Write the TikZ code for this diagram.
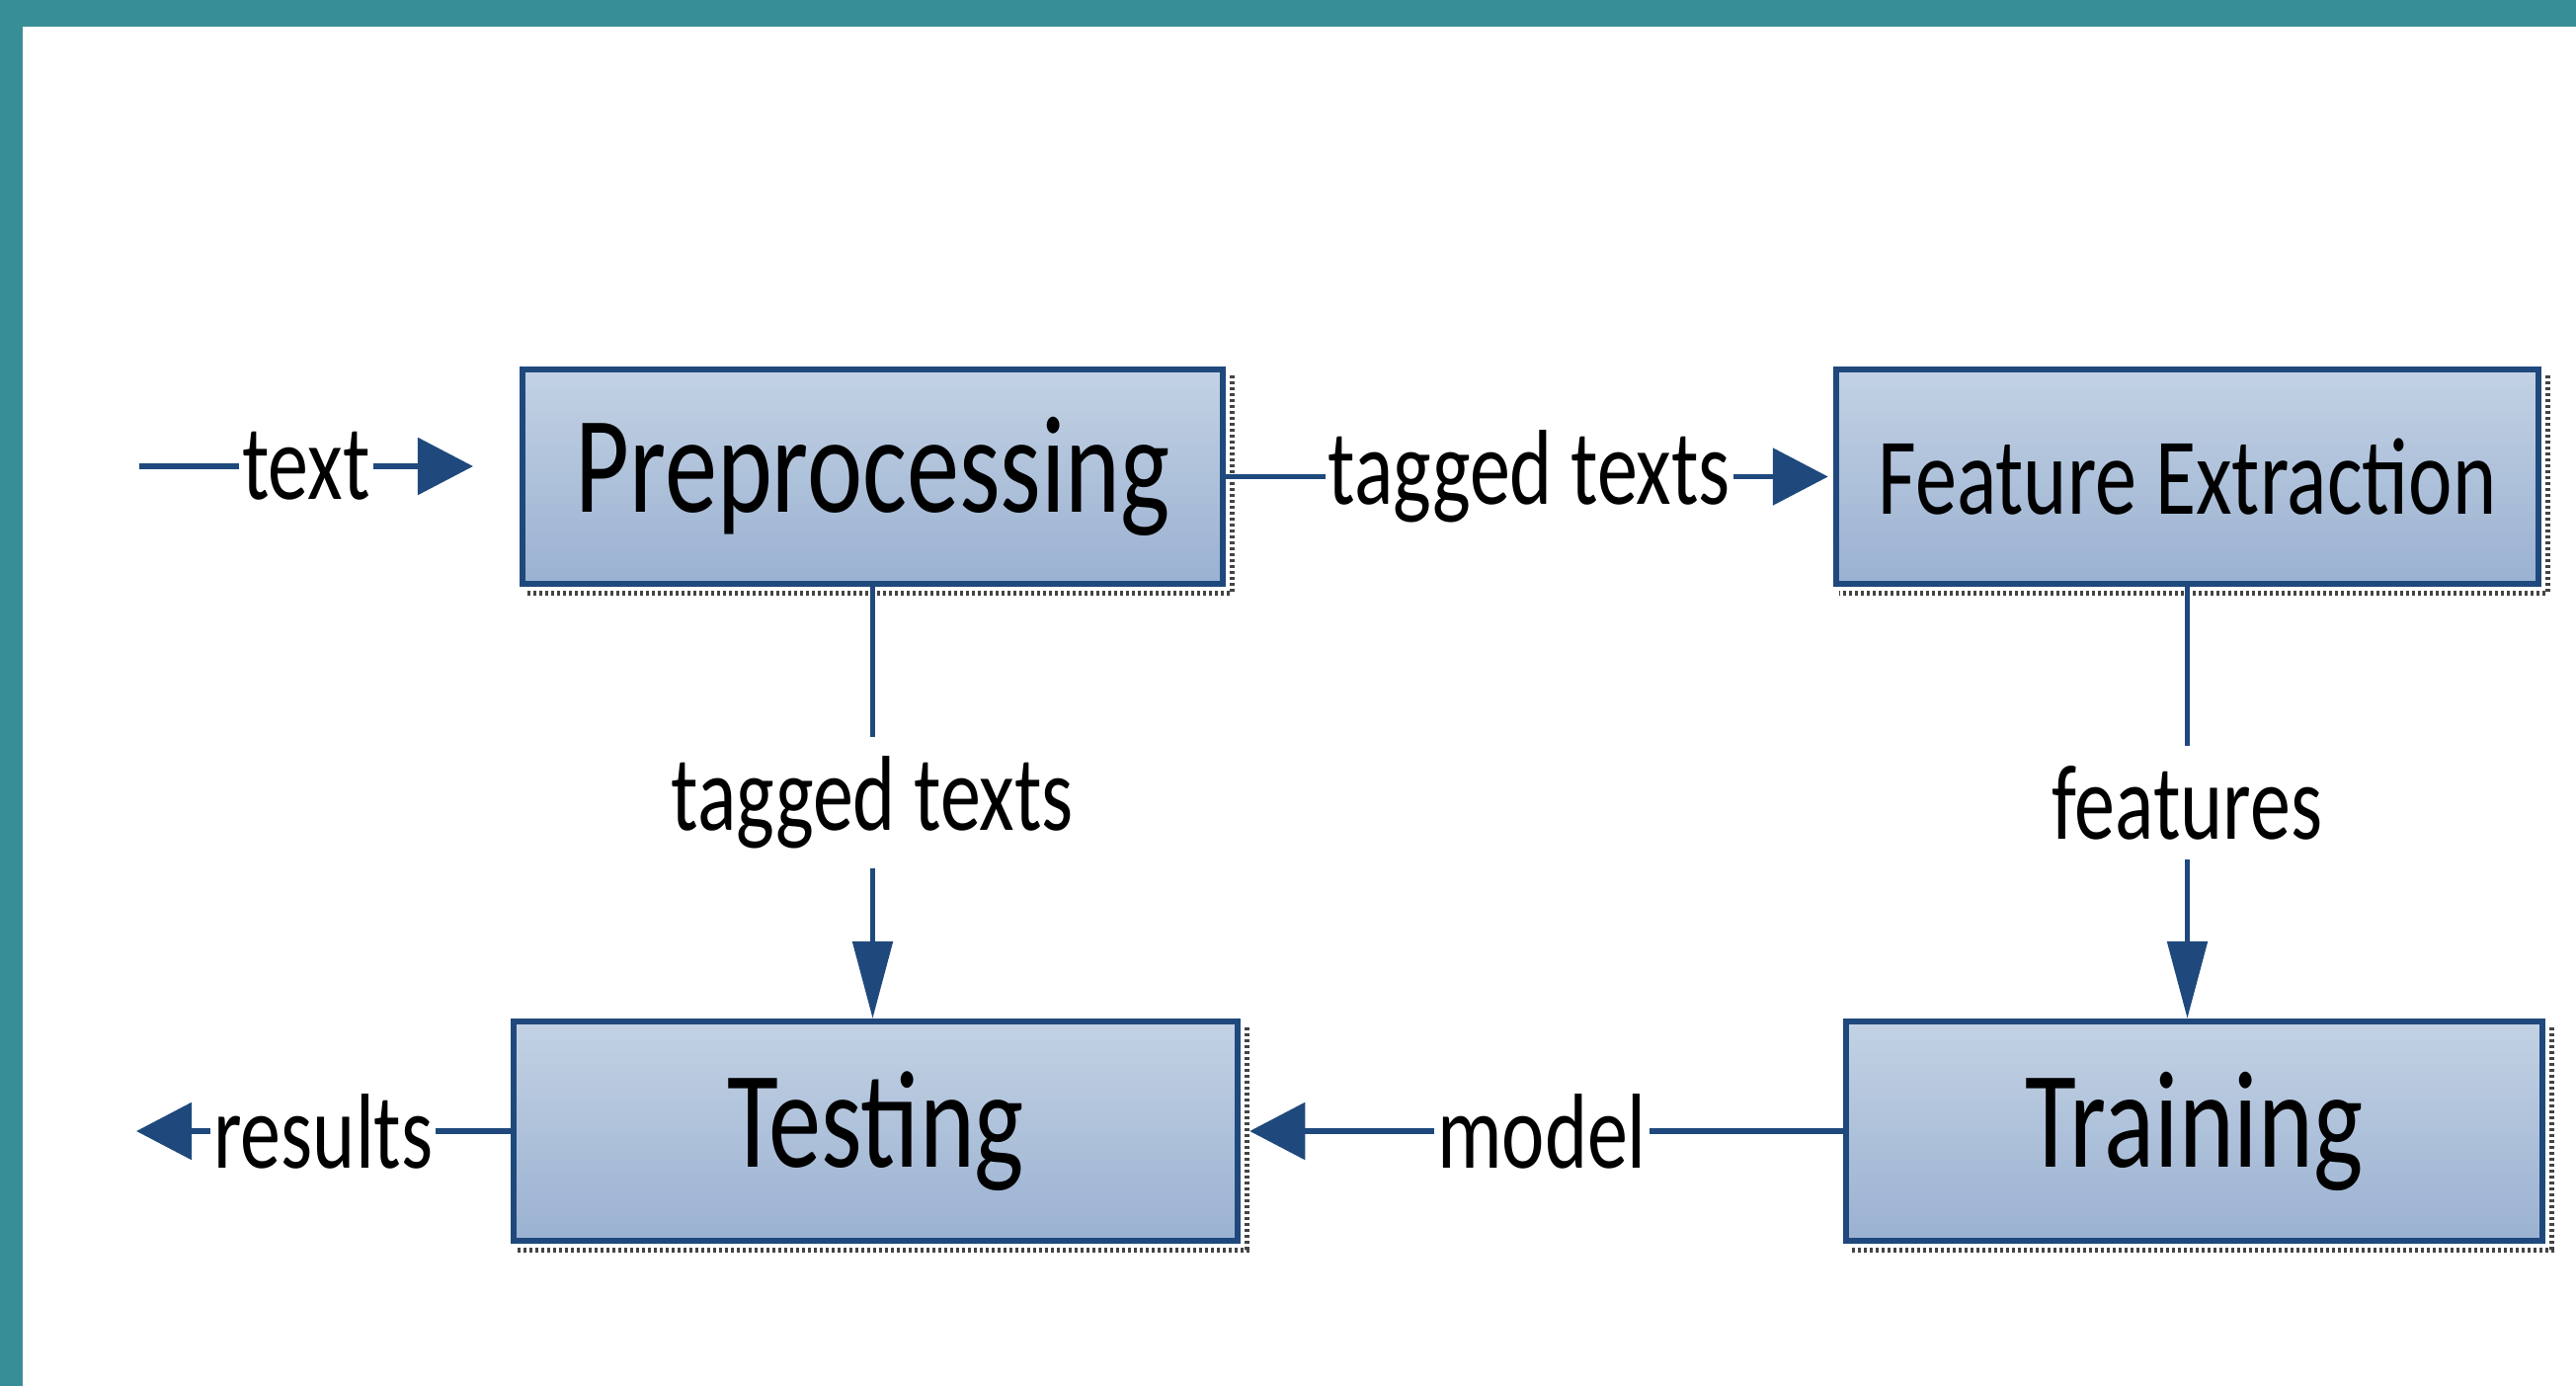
\documentclass[tikz,border=0pt]{standalone}
\usepackage{fontspec}
\setmainfont{Carlito}[FakeStretch=0.76]
\usetikzlibrary{arrows.meta}
\definecolor{bandteal}{HTML}{388E96}
\definecolor{boxtop}{HTML}{C3D2E4}
\definecolor{boxbot}{HTML}{9AB1D1}
\definecolor{edgeblue}{HTML}{1F497D}
\definecolor{shadowgray}{HTML}{444444}
\begin{document}
\begin{tikzpicture}[x=0.01cm,y=-0.01cm,
  stagebox/.style={draw=edgeblue, line width=1.7pt, top color=boxtop, bottom color=boxbot,
    inner sep=0pt, font=\fontsize{39.8}{40}\selectfont, text=black},
  conn/.style={draw=edgeblue, line width=1.6pt, -{Triangle[length=0.56cm,width=0.57cm]}},
  vconn/.style={draw=edgeblue, line width=1.5pt, -{Triangle[length=0.78cm,width=0.40cm]}},
  lbl/.style={fill=white, inner xsep=0.03cm, inner ysep=0.2cm, font=\fontsize{30.7}{31}\selectfont, text=black},
  shadowline/.style={draw=shadowgray, line width=0.05cm, dash pattern=on 0.03cm off 0.03cm}
]
\useasboundingbox (0,0) rectangle (2608,1403);
\fill[bandteal] (0,0) rectangle (2608,27);
\fill[bandteal] (0,0) rectangle (23,1403);

\node[stagebox, minimum width=7.09cm, minimum height=2.17cm] (pre) at (883.5,482.5) {Preprocessing};
\node[stagebox, minimum width=7.11cm, minimum height=2.17cm, font=\fontsize{31.5}{32}\selectfont] (fe) at (2214.5,482.5) {Feature Extraction};
\node[stagebox, minimum width=7.33cm, minimum height=2.22cm] (test) at (886.5,1145) {Testing};
\node[stagebox, minimum width=7.05cm, minimum height=2.22cm] (train) at (2221.5,1145) {Training};

\foreach \n in {pre,fe,test,train}{
  \draw[shadowline] ([xshift=0.06cm,yshift=-0.09cm]\n.north east) -- ([xshift=0.06cm,yshift=-0.06cm]\n.south east) -- ([xshift=0.06cm,yshift=-0.06cm]\n.south west);
}

\coordinate (tin) at (141,472);
\coordinate (tout) at (479,472);
\coordinate (rout) at (138,1145);

\draw[conn] (tin) -- node[lbl]{text} (tout);
\draw[conn, shorten >=0.05cm] (pre.east) -- node[lbl]{tagged texts} (fe.west);
\draw[vconn] (pre.south) -- node[lbl]{tagged texts} (pre.south |- test.north);
\draw[vconn] (fe.south) -- node[lbl]{features} (fe.south |- train.north);
\draw[conn, shorten >=0.09cm] (train.west) -- node[lbl]{model} (test.east);
\draw[conn] (test.west) -- node[lbl]{results} (rout);
\end{tikzpicture}
\end{document}
